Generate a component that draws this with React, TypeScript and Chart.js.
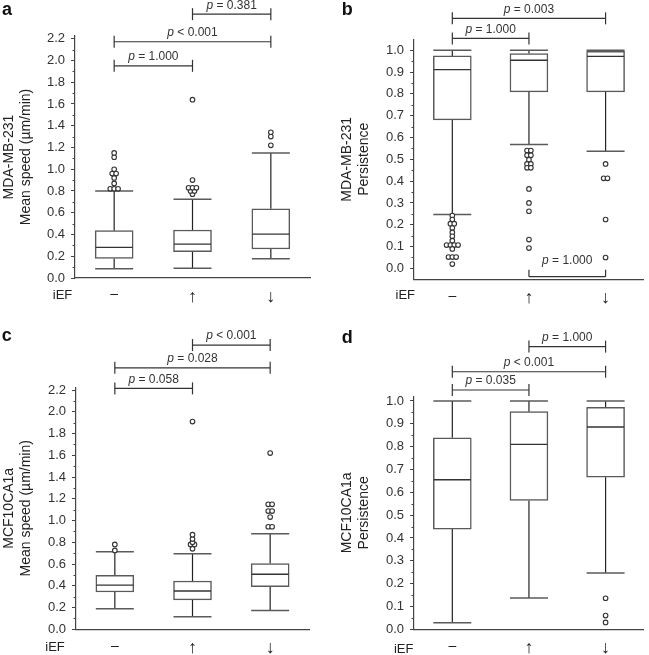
import React, { useEffect, useRef } from 'react';
import { Chart, registerables } from 'chart.js';

Chart.register(...registerables);

const FONT = "'Liberation Sans', Arial, Helvetica, sans-serif";

// ---------- shared ----------
const categories = ['–', '↑', '↓'];
const speedTicks = [0.0, 0.2, 0.4, 0.6, 0.8, 1.0, 1.2, 1.4, 1.6, 1.8, 2.0, 2.2];
const persistenceTicks = [0.0, 0.1, 0.2, 0.3, 0.4, 0.5, 0.6, 0.7, 0.8, 0.9, 1.0];
const pairs = [[0, 1], [0, 2], [1, 2]];

// ---------- panel a : MDA-MB-231 mean speed ----------
const aLower = [0.086, 0.089, 0.178];
const aQ1 = [0.18, 0.242, 0.267];
const aMedian = [0.282, 0.312, 0.404];
const aQ3 = [0.435, 0.441, 0.637];
const aUpper = [0.80, 0.723, 1.149];
const aOutliersNone = [0.82, 0.82, 0.82, 0.87, 0.92, 0.96, 0.96, 1.0, 1.11, 1.15];
const aOutliersUp = [0.77, 0.80, 0.80, 0.83, 0.83, 0.83, 0.90, 1.64];
const aOutliersDown = [1.22, 1.30, 1.34];
const aPValues = ['p = 1.000', 'p < 0.001', 'p = 0.381'];

// ---------- panel b : MDA-MB-231 persistence ----------
const bLower = [0.247, 0.568, 0.537];
const bQ1 = [0.681, 0.809, 0.809];
const bMedian = [0.911, 0.954, 0.972];
const bQ3 = [0.974, 0.985, 0.995];
const bUpper = [1.0, 1.0, 1.0];
const bOutliersNone = [0.242, 0.224, 0.205, 0.205, 0.185, 0.165, 0.147, 0.127, 0.107, 0.107, 0.107, 0.107, 0.089, 0.052, 0.052, 0.052, 0.02];
const bOutliersUp = [0.54, 0.54, 0.518, 0.518, 0.498, 0.479, 0.479, 0.461, 0.461, 0.364, 0.30, 0.262, 0.132, 0.093];
const bOutliersDown = [0.479, 0.413, 0.413, 0.224, 0.05];
const bPValues = ['p = 1.000', 'p = 0.003', 'p = 1.000'];

// ---------- panel c : MCF10CA1a mean speed ----------
const cLower = [0.19, 0.116, 0.172];
const cQ1 = [0.343, 0.27, 0.392];
const cMedian = [0.407, 0.352, 0.506];
const cQ3 = [0.496, 0.444, 0.604];
const cUpper = [0.714, 0.695, 0.879];
const cOutliersNone = [0.725, 0.78];
const cOutliersUp = [0.74, 0.78, 0.78, 0.80, 0.83, 0.87, 1.91];
const cOutliersDown = [0.943, 0.943, 1.032, 1.087, 1.087, 1.149, 1.149, 1.62];
const cPValues = ['p = 0.058', 'p = 0.028', 'p < 0.001'];

// ---------- panel d : MCF10CA1a persistence ----------
const dLower = [0.029, 0.137, 0.247];
const dQ1 = [0.439, 0.564, 0.666];
const dMedian = [0.655, 0.81, 0.886];
const dQ3 = [0.839, 0.953, 0.972];
const dUpper = [1.0, 1.0, 1.0];
const dOutliersNone: number[] = [];
const dOutliersUp: number[] = [];
const dOutliersDown = [0.03, 0.06, 0.136];
const dPValues = ['p = 0.035', 'p < 0.001', 'p = 1.000'];

// ---------- layout ----------
const BOX_W = 38;
const SPREAD = 0.05;

const panels = [
  {
    letter: 'a', title: ['MDA-MB-231', 'Mean speed (µm/min)'],
    lower: aLower, q1: aQ1, median: aMedian, q3: aQ3, upper: aUpper,
    outliers: [aOutliersNone, aOutliersUp, aOutliersDown],
    ticks: speedTicks, yMin: 0, yMax: 2.225, pValues: aPValues,
    levels: [1.951, 2.172, 2.426], tickUp: [6, 6, 6], tickDown: [6, 6, 6], textGap: [9, 9, 8],
    box: { x: 0, y: 0, w: 325, h: 325 }, padLeft: 0,
    area: { left: 75, right: 310, top: 36, bottom: 278 },
    letterPos: [2, 15], iefPos: [62.5, 295],
  },
  {
    letter: 'b', title: ['MDA-MB-231', 'Persistence'],
    lower: bLower, q1: bQ1, median: bMedian, q3: bQ3, upper: bUpper,
    outliers: [bOutliersNone, bOutliersUp, bOutliersDown],
    ticks: persistenceTicks, yMin: -0.05, yMax: 1.05, pValues: bPValues,
    levels: [1.054, 1.146, -0.038], tickUp: [6, 6, 7], tickDown: [6, 6, 0], textGap: [9, 9, 16],
    box: { x: 325, y: 0, w: 324, h: 325 }, padLeft: 12.6,
    area: { left: 89, right: 323, top: 39.3, bottom: 279.3 },
    letterPos: [16.7, 15], iefPos: [80.3, 295],
  },
  {
    letter: 'c', title: ['MCF10CA1a', 'Mean speed (µm/min)'],
    lower: cLower, q1: cQ1, median: cMedian, q3: cQ3, upper: cUpper,
    outliers: [cOutliersNone, cOutliersUp, cOutliersDown],
    ticks: speedTicks, yMin: 0, yMax: 2.225, pValues: cPValues,
    levels: [2.215, 2.404, 2.613], tickUp: [6, 6, 6], tickDown: [6, 6, 6], textGap: [9, 9, 9],
    box: { x: 0, y: 325, w: 325, h: 330 }, padLeft: 0,
    area: { left: 76, right: 309, top: 62.3, bottom: 304.3 },
    letterPos: [1.7, 16], iefPos: [55, 322.7],
  },
  {
    letter: 'd', title: ['MCF10CA1a', 'Persistence'],
    lower: dLower, q1: dQ1, median: dMedian, q3: dQ3, upper: dUpper,
    outliers: [dOutliersNone, dOutliersUp, dOutliersDown],
    ticks: persistenceTicks, yMin: 0, yMax: 1.02, pValues: dPValues,
    levels: [1.048, 1.128, 1.238], tickUp: [6, 6, 6], tickDown: [6, 6, 6], textGap: [9, 9, 9],
    box: { x: 325, y: 325, w: 324, h: 330 }, padLeft: 12.6,
    area: { left: 89, right: 323, top: 71.4, bottom: 304.3 },
    letterPos: [16.7, 18], iefPos: [78.7, 324],
  },
];

type PanelT = typeof panels[number];

function outlierPoints(groups: number[][]) {
  const pts: { x: number; y: number }[] = [];
  groups.forEach((vals, ci) => {
    const counts = new Map<number, number>();
    vals.forEach((v) => counts.set(v, (counts.get(v) || 0) + 1));
    counts.forEach((n, v) => {
      for (let k = 0; k < n; k++) pts.push({ x: ci + (k - (n - 1) / 2) * SPREAD, y: v });
    });
  });
  return pts;
}

function seg(ctx: CanvasRenderingContext2D, x1: number, y1: number, x2: number, y2: number) {
  ctx.beginPath();
  ctx.moveTo(x1, y1);
  ctx.lineTo(x2, y2);
  ctx.stroke();
}

function drawPLabel(ctx: CanvasRenderingContext2D, label: string, cx: number, cy: number) {
  const first = label.slice(0, 1);
  const rest = label.slice(1);
  ctx.font = `italic 12px ${FONT}`;
  const wp = ctx.measureText(first).width;
  ctx.font = `12px ${FONT}`;
  const wr = ctx.measureText(rest).width;
  const x0 = cx - (wp + wr) / 2;
  ctx.textAlign = 'left';
  ctx.textBaseline = 'middle';
  ctx.fillStyle = '#333';
  ctx.font = `italic 12px ${FONT}`;
  ctx.fillText(first, x0, cy);
  ctx.font = `12px ${FONT}`;
  ctx.fillText(rest, x0 + wp, cy);
}

function makeDecor(p: PanelT) {
  return {
    id: 'boxDecor' + p.letter,
    beforeDatasetsDraw(chart: any) {
      const { ctx, scales } = chart;
      const x = scales.x, y = scales.y;
      const half = BOX_W / 2;
      ctx.save();
      for (let i = 0; i < p.q1.length; i++) {
        const cx = x.getPixelForValue(i);
        const yU = y.getPixelForValue(p.upper[i]);
        const yL = y.getPixelForValue(p.lower[i]);
        ctx.strokeStyle = '#222';
        ctx.lineWidth = 1.2;
        seg(ctx, cx, y.getPixelForValue(p.q3[i]), cx, yU);
        seg(ctx, cx, y.getPixelForValue(p.q1[i]), cx, yL);
        ctx.strokeStyle = '#5a5a5a';
        ctx.lineWidth = 1.5;
        seg(ctx, cx - half, yU, cx + half, yU);
        seg(ctx, cx - half, yL, cx + half, yL);
      }
      ctx.restore();
    },
    afterDatasetsDraw(chart: any) {
      const { ctx, scales } = chart;
      const x = scales.x, y = scales.y;
      const half = BOX_W / 2;
      ctx.save();
      ctx.strokeStyle = '#333';
      ctx.lineWidth = 1.3;
      for (let i = 0; i < p.median.length; i++) {
        const cx = x.getPixelForValue(i);
        const ym = y.getPixelForValue(p.median[i]);
        seg(ctx, cx - half + 0.5, ym, cx + half - 0.5, ym);
      }
      ctx.restore();
    },
    afterDraw(chart: any) {
      const { ctx, scales, chartArea } = chart;
      const x = scales.x, y = scales.y;
      ctx.save();
      // minor ticks on y axis
      ctx.strokeStyle = '#444';
      ctx.lineWidth = 1;
      for (let i = 0; i < p.ticks.length - 1; i++) {
        const mid = (p.ticks[i] + p.ticks[i + 1]) / 2;
        const py = Math.round(y.getPixelForValue(mid)) + 0.5;
        seg(ctx, chartArea.left - 2.5, py, chartArea.left, py);
      }
      // significance brackets
      ctx.strokeStyle = '#333';
      ctx.lineWidth = 1.2;
      pairs.forEach((pr, k) => {
        const x1 = x.getPixelForValue(pr[0]);
        const x2 = x.getPixelForValue(pr[1]);
        const ly = y.getPixelForValue(p.levels[k]);
        seg(ctx, x1, ly, x2, ly);
        seg(ctx, x1, ly - p.tickUp[k], x1, ly + p.tickDown[k]);
        seg(ctx, x2, ly - p.tickUp[k], x2, ly + p.tickDown[k]);
        drawPLabel(ctx, p.pValues[k], (x1 + x2) / 2, ly - p.textGap[k]);
      });
      // panel letter
      ctx.fillStyle = '#111';
      ctx.textAlign = 'left';
      ctx.textBaseline = 'alphabetic';
      ctx.font = `bold 18px ${FONT}`;
      ctx.fillText(p.letter, p.letterPos[0], p.letterPos[1]);
      // iEF row label
      ctx.fillStyle = '#222';
      ctx.font = `13px ${FONT}`;
      ctx.textAlign = 'center';
      ctx.textBaseline = 'middle';
      ctx.fillText('iEF', p.iefPos[0], p.iefPos[1]);
      ctx.restore();
    },
  };
}

function buildConfig(p: PanelT): any {
  const boxes = categories.map((_, i) => ({ x: i, y: [p.q1[i], p.q3[i]] }));
  const pts = outlierPoints(p.outliers);
  return {
    type: 'bar',
    data: {
      datasets: [
        {
          type: 'bar',
          data: boxes,
          backgroundColor: '#ffffff',
          borderColor: '#5a5a5a',
          borderWidth: 1.5,
          borderSkipped: false,
          barThickness: BOX_W,
          order: 2,
        },
        {
          type: 'scatter',
          data: pts,
          pointRadius: 2.3,
          pointBackgroundColor: '#ffffff',
          pointBorderColor: '#333',
          pointBorderWidth: 1.1,
          showLine: false,
          clip: false,
          order: 1,
        },
      ],
    },
    options: {
      responsive: false,
      animation: false,
      events: [],
      layout: {
        padding: {
          left: p.padLeft,
          top: p.area.top,
          right: p.box.w - p.area.right,
          bottom: 0,
        },
      },
      plugins: { legend: { display: false }, tooltip: { enabled: false }, title: { display: false } },
      scales: {
        x: {
          type: 'linear',
          min: -0.5,
          max: 2.5,
          offset: false,
          afterBuildTicks: (s: any) => {
            s.ticks = categories.map((_, i) => ({ value: i }));
          },
          afterFit: (s: any) => {
            s.height = p.box.h - p.area.bottom;
          },
          ticks: {
            callback: (v: any) => categories[Math.round(Number(v))] ?? '',
            font: (ctx: any) => ({ size: ctx.index === 0 ? 14 : 18, family: FONT }),
            color: '#222',
            padding: 8,
            autoSkip: false,
            maxRotation: 0,
          },
          grid: { display: false, drawTicks: false },
          border: { display: true, color: '#444', width: 1.2 },
        },
        y: {
          type: 'linear',
          min: p.yMin,
          max: p.yMax,
          afterBuildTicks: (s: any) => {
            s.ticks = p.ticks.map((v) => ({ value: v }));
          },
          afterFit: (s: any) => {
            s.width = p.area.left - p.padLeft;
          },
          ticks: {
            callback: (v: any) => Number(v).toFixed(1),
            font: { size: 13, family: FONT },
            color: '#333',
            padding: 6,
            autoSkip: false,
          },
          grid: {
            display: true,
            drawOnChartArea: false,
            drawTicks: true,
            tickLength: 4,
            tickColor: '#444',
            tickWidth: 1,
          },
          border: { display: true, color: '#444', width: 1.2 },
          title: {
            display: true,
            text: p.title,
            font: { size: 14, family: FONT },
            color: '#222',
            padding: { top: 1, bottom: 0 },
          },
        },
      },
    },
    plugins: [makeDecor(p)],
  };
}

function Panel({ p }: { p: PanelT }) {
  const ref = useRef<HTMLCanvasElement | null>(null);
  useEffect(() => {
    if (!ref.current) return;
    const chart = new Chart(ref.current, buildConfig(p));
    return () => chart.destroy();
  }, [p]);
  return (
    <canvas
      ref={ref}
      width={p.box.w}
      height={p.box.h}
      style={{ position: 'absolute', left: p.box.x, top: p.box.y, width: p.box.w, height: p.box.h }}
    />
  );
}

export default function App() {
  return (
    <div style={{ position: 'absolute', left: 0, top: 0, width: 649, height: 655, background: '#ffffff', overflow: 'hidden' }}>
      {panels.map((p) => (
        <Panel key={p.letter} p={p} />
      ))}
    </div>
  );
}
